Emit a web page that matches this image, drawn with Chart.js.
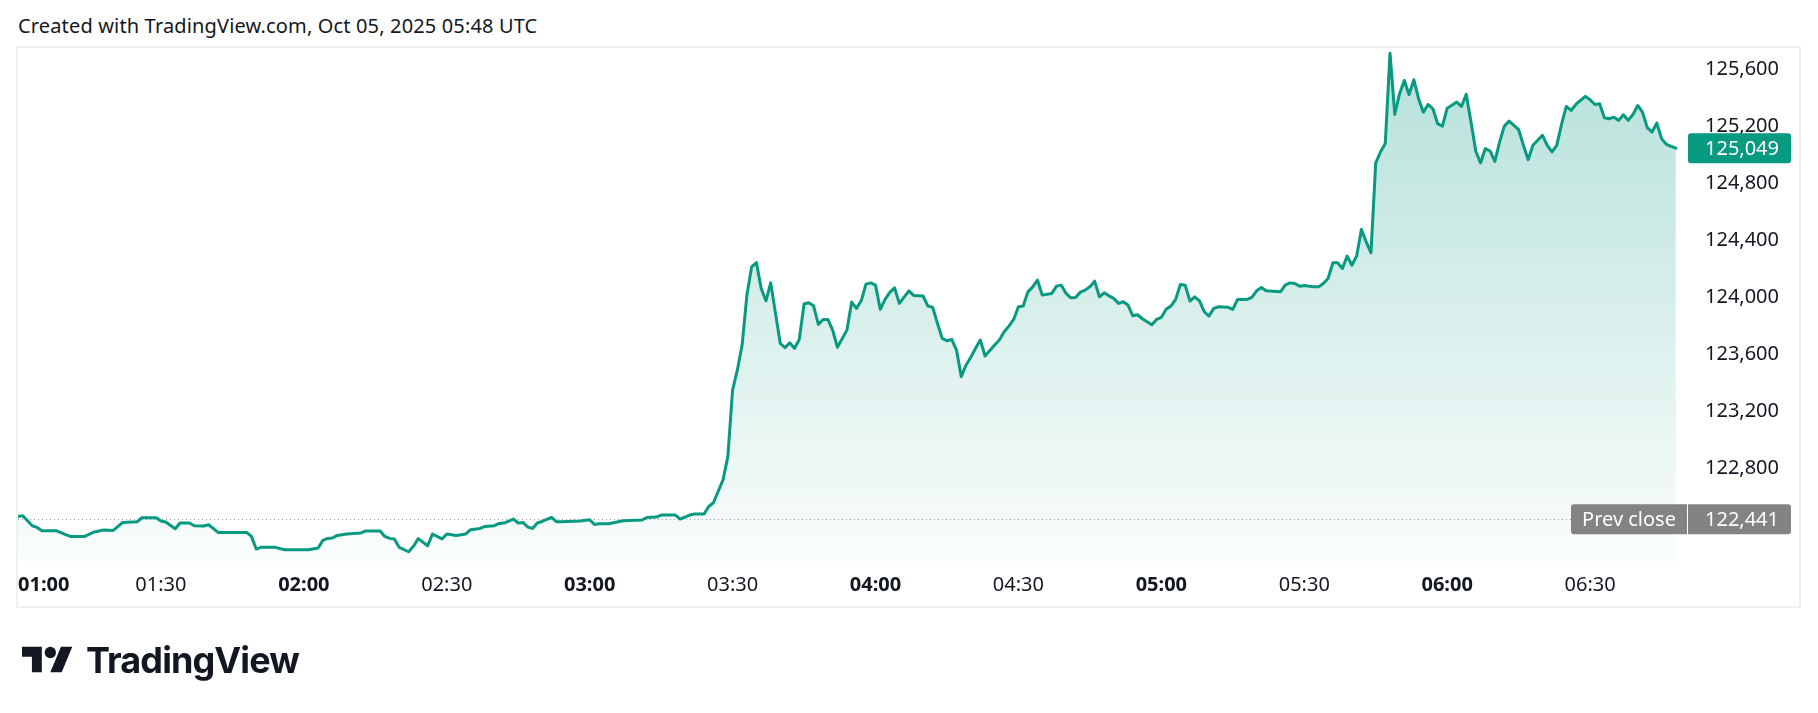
<!DOCTYPE html>
<html>
<head>
<meta charset="utf-8">
<script src="https://cdn.jsdelivr.net/npm/chart.js@4.4.0/dist/chart.umd.min.js"></script>
<style>
  html, body { margin: 0; padding: 0; background: #fff; }
  body { width: 1818px; height: 713px; position: relative; overflow: hidden; font-family: "Noto Sans", sans-serif; color: #131722; }
  #title { position: absolute; left: 18px; top: 12px; font-size: 20px; line-height: 28px; letter-spacing: 0.15px; white-space: nowrap; }
  #frame { position: absolute; left: 16px; top: 46px; width: 1785px; height: 562px; box-sizing: border-box; border: 2px solid #f0f0f0; }
  #wrap { position: absolute; left: 0; top: 0; width: 1818px; height: 713px; }
  #logo { position: absolute; left: 22px; top: 641px; }
  #logoText { position: absolute; left: 86px; top: 642px; font-family: Inter, sans-serif; font-weight: 700; font-size: 36px; line-height: 36px; letter-spacing: -0.9px; color: #131722; white-space: nowrap; }
</style>
</head>
<body>
<div id="title">Created with TradingView.com, Oct 05, 2025 05:48 UTC</div>
<div id="frame"></div>
<div id="wrap"><canvas id="myChart" width="1818" height="713"></canvas></div>
<svg id="logo" width="51" height="40" viewBox="0 0 36 28">
  <path d="M14 22H7V11H0V4h14v18z" fill="#131722"/>
  <path d="M28 22h-8l7.5-18h8L28 22z" fill="#131722"/>
  <circle cx="20" cy="8" r="4" fill="#131722"/>
</svg>
<div id="logoText">TradingView</div>

<script>
 // minutes after 01:00, 1-min closes
 const minutes = [0,1,3,4,5,8,10,11,14,16,18,20,22,25,26,29,30,31,33,34,36,37,39,40,42,48,49,50,51,54,56,61,63,64,65,66,67,69,72,73,76,77,78,79,80,82,83,84,86,87,89,90,92,94,95,97,98,100,101,102,104,105,106,107,108,109,110,112,113,114,118,120,121,122,124,127,131,132,134,135,138,139,141,142,144,145,146,148,149,150,151,152,153,154,155,156,157,158,160,161,162,163,164,165,166,167,168,169,170,171,172,174,175,176,177,178,179,180,181,182,183,184,185,187,188,190,191,192,193,194,195,196,197,198,199,200,201,202,203,205,206,207,208,209,210,211,212,213,214,215,217,218,219,220,221,222,223,224,225,226,227,228,229,230,231,232,233,234,235,236,237,238,239,240,241,242,243,244,245,246,247,248,249,250,251,252,254,255,256,258,259,260,261,262,265,266,267,268,269,270,272,273,274,275,276,277,278,279,280,281,282,283,284,285,286,287,288,289,290,291,292,293,294,295,296,297,298,299,300,301,302,303,304,305,306,307,308,309,310,311,312,313,314,315,316,317,318,319,320,321,322,323,324,325,326,327,328,329,330,331,332,333,334,335,336,337,338,339,340,341,342,343,344,345,346,347,348];
 const prices = [122460,122465,122395,122383,122360,122360,122332,122320,122320,122351,122365,122362,122418,122423,122451,122451,122428,122421,122374,122414,122414,122395,122393,122402,122348,122348,122320,122231,122243,122243,122226,122226,122238,122292,122306,122309,122327,122337,122344,122358,122358,122320,122306,122302,122243,122212,122250,122304,122254,122337,122302,122337,122327,122337,122367,122376,122390,122395,122411,122414,122442,122414,122418,122386,122376,122414,122425,122453,122423,122423,122428,122437,122404,122409,122409,122430,122435,122453,122456,122470,122470,122442,122470,122477,122477,122530,122558,122718,122881,123349,123490,123665,124016,124215,124244,124063,123976,124102,123677,123646,123681,123642,123705,123953,123962,123941,123810,123845,123845,123770,123649,123770,123967,123923,123976,124093,124102,124086,123916,123986,124035,124067,123958,124046,124014,124009,123939,123930,123817,123712,123695,123705,123630,123443,123525,123579,123642,123700,123588,123665,123700,123758,123798,123845,123934,123939,124039,124074,124121,124016,124028,124079,124086,124028,123997,124000,124037,124051,124074,124114,124004,124032,124011,123993,123958,123969,123946,123871,123878,123850,123829,123808,123845,123860,123916,123939,123986,124091,124086,123974,124004,123976,123899,123869,123923,123934,123930,123916,123986,123986,124000,124046,124070,124046,124039,124086,124102,124098,124079,124084,124074,124074,124098,124133,124243,124243,124203,124290,124226,124292,124477,124390,124313,124945,125022,125081,125716,125286,125432,125525,125425,125530,125396,125302,125356,125326,125221,125204,125330,125350,125373,125342,125427,125232,125029,124945,125046,125029,124956,125092,125204,125239,125209,125179,125069,124968,125069,125104,125139,125069,125022,125069,125216,125342,125314,125356,125385,125413,125389,125356,125361,125263,125256,125267,125244,125284,125244,125286,125349,125302,125193,125162,125225,125116,125076,125062,125049];
 const timeTicks = ['01:00','01:30','02:00','02:30','03:00','03:30','04:00','04:30','05:00','05:30','06:00','06:30'];
 const priceTicks = [122800,123200,123600,124000,124400,124800,125200,125600];
 const prevClose = 122441;
 const lastPrice = 125049;

 const FONT = '"Noto Sans", sans-serif';
 const startHour = 1;
 const xMax = 349.5;
 const yMin = 122140, yMax = 125760;

 const pad2 = n => String(n).padStart(2, '0');
 function toMin(t){ const p = t.split(':').map(Number); return (p[0]-startHour)*60 + p[1]; }
 function fmtTime(v){ return pad2(startHour + Math.floor(v/60)) + ':' + pad2(v % 60); }
 const fmtPrice = v => Number(v).toLocaleString('en-US');

 // price labels and prev close line, TradingView style
 const tvLabels = {
     id: 'tvLabels',
     beforeDatasetsDraw(chart){
         const {ctx, chartArea, scales:{y}} = chart;
         const py = Math.round(y.getPixelForValue(prevClose)) + 0.5;
         ctx.save();
         ctx.strokeStyle = '#9598a1';
         ctx.lineWidth = 1;
         ctx.setLineDash([1, 3]);
         ctx.beginPath();
         ctx.moveTo(chartArea.left, py);
         ctx.lineTo(chartArea.right, py);
         ctx.stroke();
         ctx.restore();
     },
     afterDraw(chart){
         const {ctx, chartArea, scales:{y}} = chart;
         const bx = chartArea.right + 5, bw = 103, bh = 30;
         const tx = chartArea.right + 22;
         ctx.save();
         ctx.font = '20px ' + FONT;
         ctx.textBaseline = 'middle';
         // last price
         let cy = y.getPixelForValue(lastPrice);
         ctx.fillStyle = '#089981';
         ctx.beginPath(); ctx.roundRect(bx, cy - bh/2, bw, bh, 3); ctx.fill();
         ctx.fillStyle = '#fff'; ctx.textAlign = 'left';
         ctx.fillText(fmtPrice(lastPrice), tx, cy + 1);
         // prev close
         cy = y.getPixelForValue(prevClose);
         ctx.fillStyle = '#838383';
         ctx.beginPath(); ctx.roundRect(bx, cy - bh/2, bw, bh, [0, 3, 3, 0]); ctx.fill();
         ctx.beginPath(); ctx.roundRect(bx - 117, cy - bh/2, 116, bh, [3, 0, 0, 3]); ctx.fill();
         ctx.fillStyle = '#fff';
         ctx.fillText(fmtPrice(prevClose), tx, cy + 1);
         ctx.textAlign = 'center';
         ctx.fillText('Prev close', bx - 59, cy + 1);
         ctx.restore();
     }
 };

 const CHART = document.getElementById('myChart');
 const myChart = new Chart(CHART, {
     type: 'line',
     data: {
         datasets: [{
             data: minutes.map((m, i) => ({x: m, y: prices[i]})),
             borderColor: '#089981',
             borderWidth: 3,
             borderJoinStyle: 'round',
             borderCapStyle: 'round',
             pointRadius: 0,
             tension: 0,
             fill: 'start',
             backgroundColor: (c) => {
                 const {ctx, chartArea} = c.chart;
                 if (!chartArea) return 'rgba(8,153,129,0.12)';
                 const g = ctx.createLinearGradient(0, chartArea.top, 0, chartArea.bottom);
                 g.addColorStop(0, 'rgba(8,153,129,0.3)');
                 g.addColorStop(1, 'rgba(8,153,129,0.02)');
                 return g;
             }
         }]
     },
     options: {
         responsive: false,
         animation: false,
         devicePixelRatio: 1,
         layout: {padding: {left: 18, top: 47, right: 0, bottom: 0}},
         plugins: {legend: {display: false}, tooltip: {enabled: false}},
         scales: {
             x: {
                 type: 'linear', min: 0, max: xMax,
                 grid: {display: false, drawTicks: false},
                 border: {display: false},
                 afterBuildTicks: s => { s.ticks = timeTicks.map(t => ({value: toMin(t)})).concat([{value: xMax}]); },
                 afterFit: s => { s.height = 151; s.paddingLeft = 0; s.paddingRight = 0; },
                 ticks: {
                     align: 'inner', padding: 11, maxRotation: 0, autoSkip: false, color: '#131722',
                     font: c => ({family: FONT, size: 20, weight: (c.tick && c.tick.value % 60 === 0) ? 'bold' : 'normal'}),
                     callback: v => v === xMax ? '' : fmtTime(v)
                 }
             },
             y: {
                 position: 'right', min: yMin, max: yMax,
                 grid: {display: false, drawTicks: false},
                 border: {display: false},
                 afterBuildTicks: s => { s.ticks = priceTicks.map(v => ({value: v})); },
                 afterFit: s => { s.width = 135; },
                 ticks: {crossAlign: 'near', padding: 22, color: '#131722', font: {family: FONT, size: 20}, callback: v => fmtPrice(v)}
             }
         }
     },
     plugins: [tvLabels]
 });
</script>
</body>
</html>
